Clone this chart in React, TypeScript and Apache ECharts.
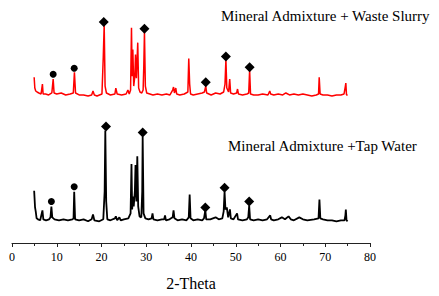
import React, { useEffect, useRef } from "react";
import * as echarts from "echarts";

// X ticks
const xTicks = [0, 10, 20, 30, 40, 50, 60, 70, 80];

// Red trace: Mineral Admixture + Waste Slurry  [2θ, intensity above baseline]
const slurryPattern: [number, number][] = [
  [4.95, 19], [5.1, 8], [5.3, 5], [5.6, 4], [6.0, 3], [6.5, 2], [6.8, 12], [6.95, 2], [7.5, 2], [8.2, 1],
  [8.9, 3], [9.2, 17], [9.4, 3], [10, 2], [11, 3], [12, 1], [13, 2], [13.7, 3], [13.95, 24], [14.2, 3],
  [15, 1], [16, 1], [17, 0], [17.8, 1], [18.1, 5], [18.4, 1], [19, 0], [20.1, 2], [20.4, 40], [20.6, 72],
  [20.8, 10], [21.1, 3], [22, 1], [23.0, 2], [23.2, 8], [23.5, 2], [24.5, 1], [25.5, 2], [25.9, 6], [26.2, 2],
  [26.5, 6], [26.7, 69], [26.85, 20], [27.0, 47], [27.2, 10], [27.45, 20], [27.6, 42], [27.8, 18], [28.1, 54], [28.3, 8],
  [28.6, 4], [29.0, 3], [29.3, 6], [29.45, 30], [29.6, 65], [29.8, 10], [30.1, 3], [30.8, 2], [31.5, 1], [32.5, 2],
  [33.5, 1], [34.5, 2], [35.3, 1], [35.9, 6], [36.1, 9], [36.3, 3], [36.6, 8], [36.8, 2], [37.5, 1], [38.5, 2],
  [39.3, 4], [39.5, 38], [39.7, 12], [39.9, 2], [40.5, 1], [41.5, 2], [42.5, 3], [43.0, 4], [43.3, 10], [43.5, 3],
  [44.5, 1], [45.5, 3], [46.5, 2], [47.3, 4], [47.6, 12], [47.8, 37], [48.0, 8], [48.4, 4], [48.65, 17], [48.85, 3],
  [49.5, 2], [50.2, 3], [50.4, 7], [50.6, 2], [51.5, 1], [52.5, 2], [52.9, 3], [53.1, 26], [53.3, 2], [54, 1],
  [55, 1], [56, 2], [57.2, 1], [57.6, 5], [57.8, 2], [58.5, 1], [59.5, 2], [60.5, 1], [61.2, 3], [62, 1],
  [63, 2], [64, 1], [65, 2], [66, 1], [67, 0], [68, 1], [68.5, 2], [68.65, 19], [68.85, 2], [69.5, 1],
  [70.5, 1], [71.5, 0], [72.5, 1], [73.5, 1], [74.2, 2], [74.5, 10], [74.6, 13], [74.75, 1], [75.0, 1],
];

// Black trace: Mineral Admixture + Tap Water
const waterPattern: [number, number][] = [
  [4.95, 31], [5.15, 14], [5.3, 10], [5.5, 3], [5.8, 2], [6.3, 1], [6.8, 11], [7.0, 2], [7.6, 1], [8.3, 2],
  [8.6, 4], [8.8, 15], [9.0, 4], [9.5, 2], [10.5, 1], [11.5, 2], [12.5, 1], [13.5, 2], [13.75, 3], [13.9, 30],
  [14.1, 2], [15, 1], [16, 2], [17, 0], [17.8, 2], [18.1, 7], [18.4, 1], [19.5, 0], [20.4, 2], [20.7, 30],
  [20.85, 92], [21.05, 20], [21.3, 2], [22, 1], [23.0, 3], [23.2, 5], [23.5, 1], [24.0, 4], [24.3, 1], [25, 2],
  [26.0, 3], [26.5, 8], [26.7, 58], [26.85, 12], [27.0, 25], [27.2, 15], [27.45, 30], [27.6, 57], [27.8, 20], [28.0, 66],
  [28.2, 15], [28.5, 5], [28.9, 4], [29.1, 30], [29.2, 86], [29.4, 8], [29.8, 3], [30.5, 2], [31.2, 3], [31.4, 8],
  [31.6, 2], [32.5, 1], [33.5, 2], [34.0, 2], [34.2, 6], [34.4, 1], [35.2, 2], [35.9, 4], [36.1, 11], [36.3, 3],
  [37, 1], [38, 2], [39, 1], [39.5, 4], [39.7, 27], [39.9, 3], [40.5, 1], [41.5, 2], [42.5, 1], [42.9, 3],
  [43.2, 11], [43.4, 2], [44.3, 2], [45.5, 4], [46.2, 2], [47.0, 3], [47.3, 10], [47.5, 30], [47.7, 12], [48.0, 14],
  [48.3, 4], [48.7, 12], [48.9, 3], [49.5, 2], [50.3, 8], [50.5, 2], [51.5, 1], [52.5, 2], [52.8, 4], [53.0, 16],
  [53.2, 2], [54, 1], [55, 2], [56, 1], [57.0, 2], [57.7, 6], [57.9, 2], [58.5, 1], [59.5, 2], [60.3, 4],
  [61, 2], [61.8, 5], [62.3, 2], [63, 1], [64.2, 4], [65, 2], [66, 1], [67.5, 2], [68.5, 3], [68.7, 22],
  [68.9, 3], [69.5, 2], [70.5, 1], [71.5, 1], [72.5, 0], [73.5, 1], [74.3, 1], [74.5, 6], [74.6, 12], [74.75, 1],
  [75, 0],
];

// Vertical offsets of the two stacked patterns
const slurryOffset = 149;
const waterOffset = 22;

// Phase markers [2θ, level above own baseline]
const slurryCircles: [number, number][] = [[9.2, 22], [13.9, 28]];
const slurryDiamonds: [number, number][] = [[20.5, 75], [29.6, 68], [43.3, 14], [47.8, 40], [53.1, 29]];
const waterCircles: [number, number][] = [[8.8, 20], [13.9, 35]];
const waterDiamonds: [number, number][] = [[21.0, 96], [29.2, 90], [43.2, 14], [47.5, 34], [53.0, 20]];

const slurryLabel = "Mineral Admixture + Waste Slurry";
const waterLabel = "Mineral Admixture +Tap Water";
const xName = "2-Theta";

const shift = (arr: [number, number][], off: number) => arr.map(([x, y]) => [x, y + off]);

export default function App() {
  const ref = useRef<HTMLDivElement>(null);
  useEffect(() => {
    if (!ref.current) return;
    const chart = echarts.init(ref.current, undefined, { renderer: "svg" });
    const serif = "Liberation Serif";
    chart.setOption({
      animation: false,
      backgroundColor: "#ffffff",
      grid: { left: 12, right: 69, top: 16, bottom: 50, containLabel: false },
      xAxis: {
        type: "value",
        min: xTicks[0],
        max: xTicks[xTicks.length - 1],
        interval: 10,
        name: xName,
        nameLocation: "middle",
        nameGap: 32,
        nameTextStyle: { fontFamily: serif, fontSize: 16, color: "#000" },
        axisLine: { show: true, lineStyle: { color: "#222", width: 1 } },
        axisTick: { show: true, length: 4, inside: false, lineStyle: { color: "#222" } },
        minorTick: { show: true, splitNumber: 2, length: 3, lineStyle: { color: "#222" } },
        axisLabel: { fontFamily: serif, fontSize: 12, color: "#000", margin: 8 },
        splitLine: { show: false },
      },
      yAxis: {
        type: "value",
        min: 0,
        max: 230,
        show: false,
        splitLine: { show: false },
      },
      graphic: [
        { type: "text", left: 221, top: 8, style: { text: slurryLabel, font: `15px "Liberation Serif"`, fill: "#000" } },
        { type: "text", left: 228, top: 138, style: { text: waterLabel, font: `15px "Liberation Serif"`, fill: "#000" } },
      ],
      series: [
        {
          type: "line",
          data: shift(slurryPattern, slurryOffset),
          showSymbol: false,
          lineStyle: { color: "#ff0000", width: 1.5 },
          itemStyle: { color: "#ff0000" },
        },
        {
          type: "line",
          data: shift(waterPattern, waterOffset),
          showSymbol: false,
          lineStyle: { color: "#000000", width: 1.8 },
          itemStyle: { color: "#000000" },
        },
        {
          type: "scatter",
          symbol: "circle",
          symbolSize: 7,
          data: [...shift(slurryCircles, slurryOffset), ...shift(waterCircles, waterOffset)],
          itemStyle: { color: "#000", opacity: 1 },
          z: 5,
        },
        {
          type: "scatter",
          symbol: "diamond",
          symbolSize: 10,
          data: [...shift(slurryDiamonds, slurryOffset), ...shift(waterDiamonds, waterOffset)],
          itemStyle: { color: "#000", opacity: 1 },
          z: 5,
        },
      ],
    });
    return () => chart.dispose();
  }, []);
  return <div ref={ref} style={{ width: 439, height: 296, position: "absolute", left: 0, top: 0 }} />;
}
